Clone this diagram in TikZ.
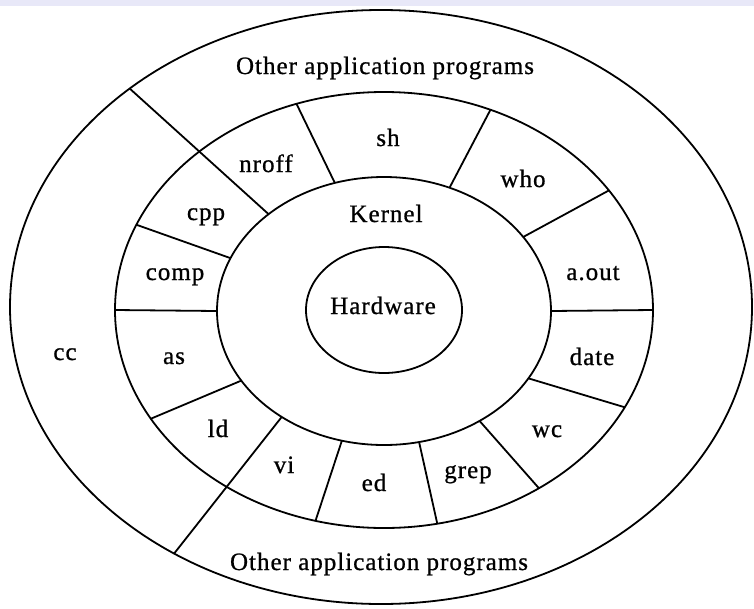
\documentclass[tikz,border=0pt]{standalone}
\usepackage{fontspec}
\setmainfont[LetterSpace=4, FakeBold=0.8]{Liberation Serif}
\usetikzlibrary{shapes.geometric}
\definecolor{scanstrip}{RGB}{232,232,248}
\tikzstyle{ring} = [ellipse, draw=black, line width=1.8pt, inner sep=0pt, outer sep=0pt]
\tikzstyle{prog} = [font=\fontsize{25}{30}\selectfont, anchor=base, inner sep=0pt]
\tikzstyle{divider} = [line width=1.8pt]

\begin{document}
\begin{tikzpicture}[x=1pt, y=-1pt]
\useasboundingbox (0,0) rectangle (754,608);
\fill[scanstrip] (0,0) rectangle (754,6);

\node (outer) [ring, minimum width=742pt, minimum height=594pt] at (381,307) {};
\node (apps) [ring, minimum width=538pt, minimum height=436pt] at (384,310) {};
\node (kernel) [ring, minimum width=334pt, minimum height=268pt] at (384,311) {};
\node (hw) [ring, minimum width=156pt, minimum height=126pt] at (384,310) {};

\draw[divider] (kernel.62) -- (apps.62);
\draw[divider] (kernel.28) -- (apps.28);
\draw[divider] (kernel.0) -- (apps.0);
\draw[divider] (kernel.335) -- (apps.338);
\draw[divider] (kernel.311) -- (apps.311);
\draw[divider] (kernel.285) -- (apps.284);
\draw[divider] (kernel.252) -- (apps.252);
\draw[divider] (kernel.226) -- (outer.230);
\draw[divider] (kernel.206) -- (apps.205.5);
\draw[divider] (kernel.180) -- (apps.180);
\draw[divider] (kernel.161) -- (apps.161);
\draw[divider] (kernel.140) -- (outer.139);
\draw[divider] (kernel.111) -- (apps.113);

\node (othertop) [prog] at (385,74) {Other application programs};
\node (otherbot) [prog] at (379,570) {Other application programs};
\node (kernellbl) [prog] at (386,222) {Kernel};
\node (hwlbl) [prog] at (383,314) {Hardware};
\node (sh) [prog] at (388,146) {sh};
\node (nroff) [prog] at (266,172) {nroff};
\node (who) [prog] at (523,187) {who};
\node (cpp) [prog] at (206,220) {cpp};
\node (comp) [prog] at (175,280) {comp};
\node (aout) [prog] at (593,280) {a.out};
\node (cc) [prog] at (65,360) {cc};
\node (as) [prog] at (174,364) {as};
\node (date) [prog] at (592,365) {date};
\node (ld) [prog] at (218,437) {ld};
\node (wc) [prog] at (547,437) {wc};
\node (vi) [prog] at (284,473) {vi};
\node (ed) [prog] at (374,491) {ed};
\node (grep) [prog] at (468,478) {grep};
\end{tikzpicture}
\end{document}
